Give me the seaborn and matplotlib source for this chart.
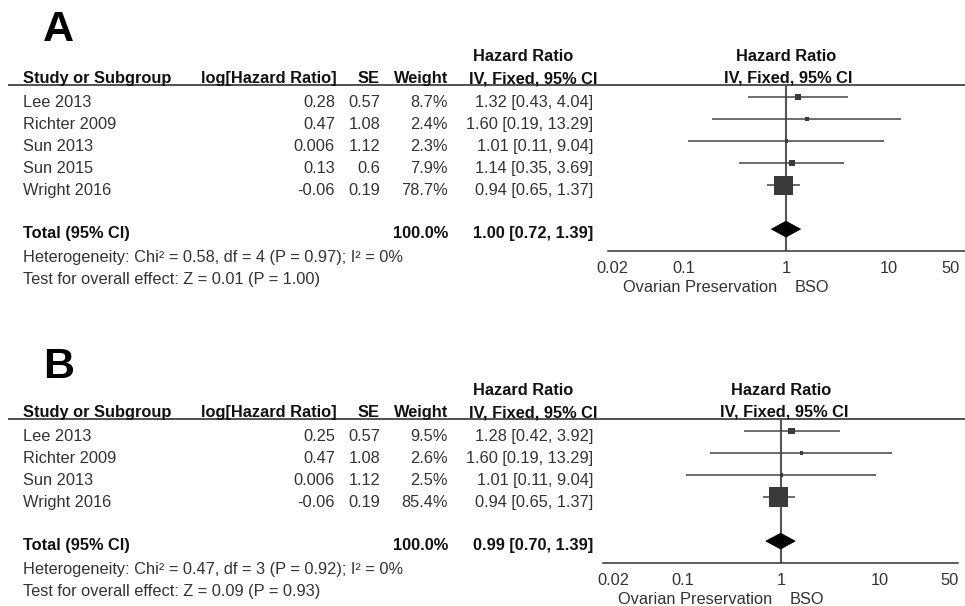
import numpy as np
import pandas as pd
import matplotlib
matplotlib.use("Agg")
import matplotlib.pyplot as plt
import seaborn as sns
from matplotlib.patches import Polygon

sns.set_theme(style="white")
plt.rcParams["font.family"] = ["Liberation Sans", "DejaVu Sans"]

# ---- Panel A: all studies ----
studies_a = ["Lee 2013", "Richter 2009", "Sun 2013", "Sun 2015", "Wright 2016"]
log_hr_a = [0.28, 0.47, 0.006, 0.13, -0.06]
se_a = [0.57, 1.08, 1.12, 0.6, 0.19]
weight_a = [8.7, 2.4, 2.3, 7.9, 78.7]
hr_a = [1.32, 1.60, 1.01, 1.14, 0.94]
lo_a = [0.43, 0.19, 0.11, 0.35, 0.65]
hi_a = [4.04, 13.29, 9.04, 3.69, 1.37]
total_a = [1.00, 0.72, 1.39]
het_a = "Heterogeneity: Chi\u00b2 = 0.58, df = 4 (P = 0.97); I\u00b2 = 0%"
overall_a = "Test for overall effect: Z = 0.01 (P = 1.00)"

# ---- Panel B: without Sun 2015 ----
studies_b = ["Lee 2013", "Richter 2009", "Sun 2013", "Wright 2016"]
log_hr_b = [0.25, 0.47, 0.006, -0.06]
se_b = [0.57, 1.08, 1.12, 0.19]
weight_b = [9.5, 2.6, 2.5, 85.4]
hr_b = [1.28, 1.60, 1.01, 0.94]
lo_b = [0.42, 0.19, 0.11, 0.65]
hi_b = [3.92, 13.29, 9.04, 1.37]
total_b = [0.99, 0.70, 1.39]
het_b = "Heterogeneity: Chi\u00b2 = 0.47, df = 3 (P = 0.92); I\u00b2 = 0%"
overall_b = "Test for overall effect: Z = 0.09 (P = 0.93)"

tick_values = [0.02, 0.1, 1, 10, 50]
tick_labels = ["0.02", "0.1", "1", "10", "50"]

W, H = 965, 606
fig = plt.figure(figsize=(W / 100, H / 100), dpi=100)
fig.patch.set_facecolor("white")

# full-figure canvas in pixel units for the table part
canvas = fig.add_axes([0, 0, 1, 1])
canvas.set_xlim(0, W)
canvas.set_ylim(H, 0)
canvas.axis("off")

TXT = "#333333"
BOLD = "#111111"
FS = 11.8
PITCH = 22.0


def px_axes(x0, y0, x1, y1):
    return fig.add_axes([x0 / W, 1 - y1 / H, (x1 - x0) / W, (y1 - y0) / H])


def draw_panel(letter, letter_y, y_top, studies, log_hr, se, weight, hr, lo, hi,
               total, het, overall, fx0, fx1, xlim, edge_label=False):
    n = len(studies)
    bottom_row = n + 2
    y_bot = y_top + (bottom_row + 0.55) * PITCH

    # panel letter
    canvas.text(43, letter_y, letter, fontsize=31, fontweight="bold",
                color="black", ha="left", va="baseline")

    # header line across the whole width
    canvas.plot([8, W], [y_top, y_top], color="#333333", lw=1.2,
                solid_capstyle="butt")

    hb = y_top - 2
    canvas.text(23, hb, "Study or Subgroup", fontsize=FS, fontweight="bold",
                color=BOLD, ha="left", va="baseline")
    canvas.text(337, hb, "log[Hazard Ratio]", fontsize=FS, fontweight="bold",
                color=BOLD, ha="right", va="baseline")
    canvas.text(380, hb, "SE", fontsize=FS, fontweight="bold",
                color=BOLD, ha="right", va="baseline")
    canvas.text(448, hb, "Weight", fontsize=FS, fontweight="bold",
                color=BOLD, ha="right", va="baseline")
    canvas.text(533, hb, "IV, Fixed, 95% CI", fontsize=FS, fontweight="bold",
                color=BOLD, ha="center", va="baseline")
    canvas.text(523, hb - 22, "Hazard Ratio", fontsize=FS, fontweight="bold",
                color=BOLD, ha="center", va="baseline")

    for i in range(n):
        yb = y_top + (0.55 + i) * PITCH + 10
        canvas.text(23, yb, studies[i], fontsize=FS, color=TXT, ha="left", va="baseline")
        canvas.text(335, yb, str(log_hr[i]), fontsize=FS, color=TXT, ha="right", va="baseline")
        canvas.text(380, yb, str(se[i]), fontsize=FS, color=TXT, ha="right", va="baseline")
        canvas.text(448, yb, f"{weight[i]:.1f}%", fontsize=FS, color=TXT, ha="right", va="baseline")
        canvas.text(593, yb, f"{hr[i]:.2f} [{lo[i]:.2f}, {hi[i]:.2f}]", fontsize=FS,
                    color=TXT, ha="right", va="baseline")

    yt = y_top + (0.55 + n + 1) * PITCH + 9
    canvas.text(23, yt, "Total (95% CI)", fontsize=FS, fontweight="bold",
                color=BOLD, ha="left", va="baseline")
    canvas.text(448, yt, f"{sum(weight):.1f}%", fontsize=FS, fontweight="bold",
                color=BOLD, ha="right", va="baseline")
    canvas.text(593, yt, f"{total[0]:.2f} [{total[1]:.2f}, {total[2]:.2f}]",
                fontsize=FS, fontweight="bold", color=BOLD, ha="right", va="baseline")
    canvas.text(23, yt + 24, het, fontsize=FS, color=TXT, ha="left", va="baseline")
    canvas.text(23, yt + 46, overall, fontsize=FS, color=TXT, ha="left", va="baseline")

    # forest plot
    ax = px_axes(fx0, y_top, fx1, y_bot)
    ax.set_facecolor("none")
    ax.set_xscale("log")
    df = pd.DataFrame({"study": studies, "hr": hr, "lo": lo, "hi": hi,
                       "weight": weight, "row": np.arange(n)})
    ax.axvline(1, color="#555555", lw=1.5, zorder=1)
    ax.hlines(df["row"], df["lo"], df["hi"], color="#444444", lw=1.1, zorder=2)
    sns.scatterplot(data=df, x="hr", y="row", size="weight", sizes=(0, 238),
                    size_norm=(0, 100), marker="s", color="#3a3a3a",
                    edgecolor="none", linewidth=0, legend=False, ax=ax, zorder=3)
    tr = n + 1
    est, tlo, thi = total
    ax.add_patch(Polygon([(tlo, tr), (est, tr - 0.36), (thi, tr), (est, tr + 0.36)],
                         closed=True, facecolor="black", edgecolor="black",
                         lw=0.5, zorder=4))
    ax.set_xlim(*xlim)
    ax.set_ylim(bottom_row, -0.55)
    ax.set_xticks(tick_values)
    ax.set_xticklabels(tick_labels)
    ax.minorticks_off()
    ax.set_yticks([])
    ax.set_xlabel("")
    ax.set_ylabel("")
    for s in ["top", "left", "right"]:
        ax.spines[s].set_visible(False)
    ax.spines["bottom"].set_color("#333333")
    ax.spines["bottom"].set_linewidth(1.1)
    ax.tick_params(axis="x", direction="inout", length=7, width=1.1,
                   color="#333333", labelsize=FS, labelcolor=TXT, pad=3.5)
    if edge_label:
        ax.get_xticklabels()[-1].set_horizontalalignment("right")

    ax.annotate("Ovarian Preservation", xy=(1, 0), xycoords=("data", "axes fraction"),
                xytext=(-6, -26), textcoords="offset points", ha="right", va="center",
                fontsize=FS, color=TXT)
    ax.annotate("BSO", xy=(1, 0), xycoords=("data", "axes fraction"),
                xytext=(6, -26), textcoords="offset points", ha="left", va="center",
                fontsize=FS, color=TXT)
    ax.annotate("IV, Fixed, 95% CI", xy=(1, 1), xycoords=("data", "axes fraction"),
                xytext=(2, 1.5), textcoords="offset points", ha="center", va="baseline",
                fontsize=FS, fontweight="bold", color=BOLD)
    ax.annotate("Hazard Ratio", xy=(1, 1), xycoords=("data", "axes fraction"),
                xytext=(0, 17), textcoords="offset points", ha="center", va="baseline",
                fontsize=FS, fontweight="bold", color=BOLD)
    return ax


draw_panel("A", 41, 85, studies_a, log_hr_a, se_a, weight_a, hr_a, lo_a, hi_a,
           total_a, het_a, overall_a, 608, 965, (0.0183, 56), edge_label=True)
draw_panel("B", 378, 419, studies_b, log_hr_b, se_b, weight_b, hr_b, lo_b, hi_b,
           total_b, het_b, overall_b, 603, 958, (0.0158, 61.6))

fig.savefig("out.png", dpi=100, facecolor="white")
